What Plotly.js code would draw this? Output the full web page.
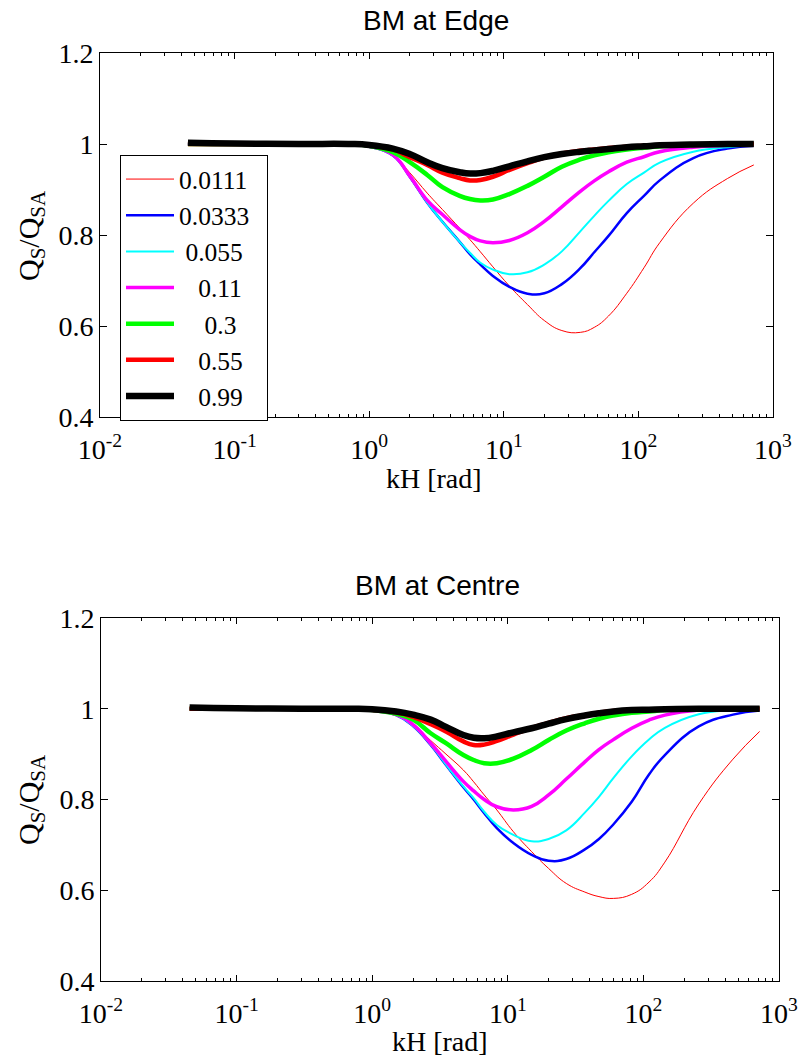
<!DOCTYPE html>
<html>
<head>
<meta charset="utf-8">
<script src="https://cdn.plot.ly/plotly-3.0.1.min.js"></script>
<style>
  html, body { margin: 0; padding: 0; background: #ffffff; }
  #chart { width: 798px; height: 1057px; }
</style>
</head>
<body>
<div id="chart"></div>
<script>
// ---- data ----
const kH = [0.045, 0.1, 0.3, 0.7, 1, 1.5, 2, 2.7, 3.5, 4.7, 5.6, 6.7, 8.3, 11, 15, 20, 27, 37, 47, 60, 82, 110, 144, 256, 458, 720];

const seriesNames = ['0.0111', '0.0333', '0.055', '0.11', '0.3', '0.55', '0.99'];

// BM at Edge
const edge_0111 = [1, 1, 1, 1, 0.994, 0.976, 0.937, 0.892, 0.856, 0.815, 0.79, 0.763, 0.73, 0.688, 0.647, 0.612, 0.59, 0.586, 0.597, 0.622, 0.672, 0.728, 0.783, 0.87, 0.924, 0.954];
const edge_0333 = [1, 1, 1, 1, 0.994, 0.975, 0.928, 0.871, 0.829, 0.785, 0.758, 0.735, 0.71, 0.686, 0.671, 0.672, 0.692, 0.727, 0.762, 0.798, 0.848, 0.886, 0.92, 0.969, 0.99, 0.996];
const edge_055  = [1, 1, 1, 1, 0.994, 0.975, 0.928, 0.871, 0.829, 0.785, 0.761, 0.739, 0.724, 0.714, 0.718, 0.735, 0.764, 0.808, 0.842, 0.875, 0.912, 0.937, 0.959, 0.983, 0.993, 0.997];
const edge_011  = [1, 1, 1, 1, 0.995, 0.976, 0.93, 0.876, 0.845, 0.812, 0.797, 0.787, 0.783, 0.788, 0.805, 0.83, 0.862, 0.896, 0.919, 0.939, 0.96, 0.972, 0.983, 0.993, 0.997, 0.999];
const edge_03   = [1, 1, 1, 1, 0.996, 0.982, 0.96, 0.932, 0.905, 0.886, 0.879, 0.876, 0.878, 0.89, 0.908, 0.928, 0.95, 0.966, 0.975, 0.982, 0.988, 0.992, 0.995, 0.998, 1.0, 1.0];
const edge_055b = [1, 1, 1, 1, 0.997, 0.988, 0.971, 0.954, 0.937, 0.925, 0.92, 0.921, 0.928, 0.943, 0.958, 0.97, 0.979, 0.985, 0.988, 0.991, 0.994, 0.996, 0.998, 0.999, 1.0, 1.0];
const edge_099  = [1.003, 1.001, 1.0, 1.0, 0.998, 0.99, 0.978, 0.96, 0.947, 0.938, 0.935, 0.936, 0.941, 0.951, 0.962, 0.971, 0.978, 0.983, 0.986, 0.989, 0.993, 0.995, 0.997, 0.999, 1.0, 1.0];

// BM at Centre
const centre_0111 = [1, 1, 1, 1, 0.996, 0.987, 0.965, 0.93, 0.9, 0.865, 0.839, 0.81, 0.777, 0.729, 0.685, 0.648, 0.615, 0.596, 0.586, 0.582, 0.591, 0.618, 0.662, 0.79, 0.889, 0.95];
const centre_0333 = [1, 1, 1, 1, 0.996, 0.986, 0.962, 0.92, 0.876, 0.827, 0.8, 0.77, 0.737, 0.704, 0.678, 0.665, 0.669, 0.69, 0.713, 0.745, 0.795, 0.855, 0.898, 0.961, 0.987, 0.996];
const centre_055  = [1, 1, 1, 1, 0.996, 0.986, 0.962, 0.921, 0.877, 0.829, 0.803, 0.773, 0.744, 0.722, 0.708, 0.713, 0.732, 0.771, 0.806, 0.847, 0.895, 0.932, 0.958, 0.988, 0.997, 0.999];
const centre_011  = [1, 1, 1, 1, 0.996, 0.987, 0.965, 0.924, 0.884, 0.84, 0.819, 0.8, 0.784, 0.777, 0.785, 0.81, 0.845, 0.883, 0.91, 0.932, 0.957, 0.975, 0.986, 0.997, 0.999, 1.0];
const centre_03   = [1, 1, 1, 1, 0.997, 0.989, 0.976, 0.946, 0.924, 0.898, 0.887, 0.88, 0.88, 0.89, 0.909, 0.931, 0.952, 0.968, 0.978, 0.985, 0.991, 0.994, 0.997, 0.999, 1.0, 1.0];
const centre_055b = [1, 1, 1, 1, 0.998, 0.992, 0.982, 0.966, 0.95, 0.928, 0.92, 0.921, 0.929, 0.943, 0.958, 0.969, 0.979, 0.986, 0.991, 0.995, 0.997, 0.998, 0.999, 1.0, 1.0, 1.0];
const centre_099  = [1.003, 1.001, 1.0, 1.0, 0.999, 0.994, 0.987, 0.976, 0.96, 0.942, 0.936, 0.935, 0.939, 0.948, 0.957, 0.967, 0.977, 0.985, 0.99, 0.994, 0.997, 0.998, 0.999, 1.0, 1.0, 1.0];

const xTickVals = [0.01, 0.1, 1, 10, 100, 1000];
const xTickText = ['10<sup>-2</sup>', '10<sup>-1</sup>', '10<sup>0</sup>', '10<sup>1</sup>', '10<sup>2</sup>', '10<sup>3</sup>'];
const yTickVals = [0.4, 0.6, 0.8, 1, 1.2];
const yTickText = ['0.4', '0.6', '0.8', '1', '1.2'];

// ---- styling ----
const colors = ['#ff0000', '#0000ff', '#00ffff', '#ff00ff', '#00ff00', '#ff0000', '#000000'];
const widths = [1, 2.5, 2, 3.5, 4.5, 4.5, 6.5];
const legendLabels = [
  '0.0111\u00a0\u00a0',
  '0.0333\u00a0\u00a0',
  '\u00a00.055',
  '\u00a0\u00a0\u00a00.11',
  '\u00a0\u00a0\u00a0\u00a00.3',
  '\u00a0\u00a0\u00a00.55',
  '\u00a0\u00a0\u00a00.99'
];

const edgeSeries = [edge_0111, edge_0333, edge_055, edge_011, edge_03, edge_055b, edge_099];
const centreSeries = [centre_0111, centre_0333, centre_055, centre_011, centre_03, centre_055b, centre_099];

const minorVals = [];
for (let d = -2; d < 3; d++) {
  for (let m = 2; m <= 9; m++) minorVals.push(m * Math.pow(10, d));
}

const traces = [];
edgeSeries.forEach((ys, i) => {
  traces.push({
    x: kH, y: ys, type: 'scatter', mode: 'lines',
    name: legendLabels[i], legendgroup: 'g' + i,
    line: { color: colors[i], width: widths[i], shape: 'spline', smoothing: 1.3 },
    xaxis: 'x', yaxis: 'y', showlegend: true, hoverinfo: 'skip'
  });
});
centreSeries.forEach((ys, i) => {
  traces.push({
    x: kH, y: ys, type: 'scatter', mode: 'lines',
    name: seriesNames[i],
    line: { color: colors[i], width: widths[i], shape: 'spline', smoothing: 1.3 },
    xaxis: 'x2', yaxis: 'y2', showlegend: false, hoverinfo: 'skip'
  });
});
// empty carriers so the minor-tick overlay axes get drawn (they plot nothing)
[['x3', 'y', edge_099], ['x4', 'y', edge_099], ['x5', 'y2', centre_099], ['x6', 'y2', centre_099]].forEach(([xa, ya, ys]) => {
  traces.push({ x: kH, y: ys, type: 'scatter', mode: 'none', xaxis: xa, yaxis: ya, showlegend: false, hoverinfo: 'skip' });
});

const serif = 'Liberation Serif, Times New Roman, serif';
const sans = 'Liberation Sans, Arial, sans-serif';
const W = 798, H = 1057;
const FS = 28;

function xAxis(domain, anchor) {
  return {
    type: 'log', range: [-2, 3], domain: domain, anchor: anchor,
    tickmode: 'array', tickvals: xTickVals, ticktext: xTickText,
    ticks: 'inside', ticklen: 6, tickcolor: '#000', tickwidth: 1,
    showline: true, linecolor: '#000', linewidth: 1, mirror: 'ticks',
    showgrid: false, zeroline: false, ticklabelstandoff: 7, ticklabeloverflow: 'allow',
    tickfont: { family: serif, size: FS, color: '#000' }
  };
}
function minorAxis(over, anchor, side) {
  return {
    type: 'log', range: [-2, 3], overlaying: over, anchor: anchor, side: side,
    tickmode: 'array', tickvals: minorVals,
    ticks: 'inside', ticklen: 3, tickcolor: '#000', tickwidth: 1,
    showline: false, showticklabels: false, showgrid: false, zeroline: false
  };
}
function yAxis(domain, anchor) {
  return {
    range: [0.4, 1.2], domain: domain, anchor: anchor,
    tickmode: 'array', tickvals: yTickVals, ticktext: yTickText,
    ticks: 'inside', ticklen: 7, tickcolor: '#000', tickwidth: 1,
    showline: true, linecolor: '#000', linewidth: 1, mirror: 'ticks',
    showgrid: false, zeroline: false,
    tickfont: { family: serif, size: FS, color: '#000' }
  };
}

const layout = {
  width: W, height: H,
  margin: { l: 0, r: 0, t: 0, b: 0 },
  paper_bgcolor: '#ffffff', plot_bgcolor: '#ffffff',
  showlegend: true,
  xaxis: xAxis([100 / W, 773 / W], 'y'),
  yaxis: yAxis([1 - 417 / H, 1 - 53 / H], 'x'),
  xaxis2: xAxis([101 / W, 779 / W], 'y2'),
  yaxis2: yAxis([1 - 981 / H, 1 - 618 / H], 'x2'),
  xaxis3: minorAxis('x', 'y', 'bottom'),
  xaxis4: minorAxis('x', 'y', 'top'),
  xaxis5: minorAxis('x2', 'y2', 'bottom'),
  xaxis6: minorAxis('x2', 'y2', 'top'),
  legend: {
    x: 120 / W, y: 1 - 155 / H, xanchor: 'left', yanchor: 'top',
    bgcolor: '#ffffff', bordercolor: '#000', borderwidth: 1,
    font: { family: serif, size: 25.5, color: '#000' },
    traceorder: 'grouped', tracegroupgap: 0, itemwidth: 48
  },
  annotations: [
    { text: 'BM at Edge', x: 436 / W, y: 1 - 21 / H, xref: 'paper', yref: 'paper', xanchor: 'center', yanchor: 'middle', showarrow: false, font: { family: sans, size: 28, color: '#000' } },
    { text: 'BM at Centre', x: 437 / W, y: 1 - 585 / H, xref: 'paper', yref: 'paper', xanchor: 'center', yanchor: 'middle', showarrow: false, font: { family: sans, size: 28, color: '#000' } },
    { text: 'kH [rad]', x: 434 / W, y: 1 - 478 / H, xref: 'paper', yref: 'paper', xanchor: 'center', yanchor: 'middle', showarrow: false, font: { family: serif, size: FS, color: '#000' } },
    { text: 'kH [rad]', x: 440 / W, y: 1 - 1041 / H, xref: 'paper', yref: 'paper', xanchor: 'center', yanchor: 'middle', showarrow: false, font: { family: serif, size: FS, color: '#000' } },
    { text: 'Q<sub>S</sub>/Q<sub>SA</sub>', x: 31 / W, y: 1 - 236 / H, xref: 'paper', yref: 'paper', xanchor: 'center', yanchor: 'middle', textangle: -90, showarrow: false, font: { family: serif, size: 30, color: '#000' } },
    { text: 'Q<sub>S</sub>/Q<sub>SA</sub>', x: 31 / W, y: 1 - 800 / H, xref: 'paper', yref: 'paper', xanchor: 'center', yanchor: 'middle', textangle: -90, showarrow: false, font: { family: serif, size: 30, color: '#000' } }
  ]
};

Plotly.newPlot('chart', traces, layout, { displayModeBar: false, staticPlot: true });
</script>
</body>
</html>
